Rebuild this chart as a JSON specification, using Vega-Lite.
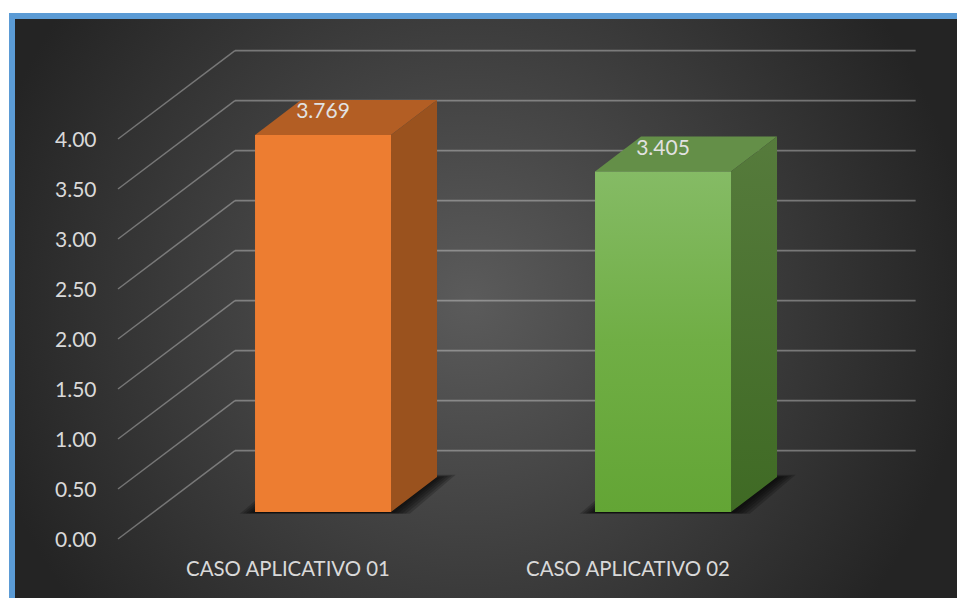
{
  "$schema": "https://vega.github.io/schema/vega-lite/v6.json",
  "width": 945,
  "height": 582,
  "autosize": "none",
  "padding": {"left": 15, "top": 19, "right": 0, "bottom": 0},
  "background": "#ffffff",
  "config": {
    "view": {"fill": "#2a2a2a", "stroke": "#5b9bd5", "strokeWidth": 12},
    "text": {"font": "Lato"},
    "axis": {"labelFont": "Lato", "labelColor": "#d9d9d9", "labelFontSize": 21}
  },
  "datasets": {
    "casos": [
      {"caso": "CASO APLICATIVO 01", "valor": 3.769},
      {"caso": "CASO APLICATIVO 02", "valor": 3.405}
    ],
    "marcas": [
      {"tick": 0}, {"tick": 0.5}, {"tick": 1}, {"tick": 1.5}, {"tick": 2},
      {"tick": 2.5}, {"tick": 3}, {"tick": 3.5}, {"tick": 4}
    ],
    "fondo": [{"x0": -0.435, "x1": 2.506, "y0": -2.61, "y1": 7.39}]
  },
  "layer": [
    {
      "description": "Panel background: a square radial gradient clipped to the view so it stays circular",
      "data": {"name": "fondo"},
      "mark": {
        "type": "rect",
        "clip": true,
        "fill": {
          "gradient": "radial", "x1": 0.5, "y1": 0.5, "r1": 0, "x2": 0.5, "y2": 0.5, "r2": 0.5,
          "stops": [{"offset": 0, "color": "#5b5b5b"}, {"offset": 1, "color": "#242424"}]
        }
      },
      "encoding": {
        "x": {"field": "x0", "type": "quantitative", "axis": null,
              "scale": {"domain": [0, 2], "range": [103, 783], "nice": false, "zero": false}},
        "x2": {"field": "x1"},
        "y": {"field": "y0", "type": "quantitative", "axis": null,
              "scale": {"domain": [0, 4], "range": [520, 120], "nice": false, "zero": false}},
        "y2": {"field": "y1"}
      }
    },
    {
      "description": "Back wall gridlines",
      "data": {"name": "marcas"},
      "transform": [{"calculate": "datum.tick + 0.883", "as": "fondoY"}],
      "mark": {"type": "rule", "color": "#ffffff", "opacity": 0.33, "strokeWidth": 1.7},
      "encoding": {
        "x": {"datum": 0.344, "type": "quantitative", "axis": null,
              "scale": {"domain": [0, 2], "range": [103, 783], "nice": false, "zero": false}},
        "x2": {"datum": 2.346},
        "y": {"field": "fondoY", "type": "quantitative", "axis": null,
              "scale": {"domain": [0, 4], "range": [520, 120], "nice": false, "zero": false}}
      }
    },
    {
      "description": "Side wall gridlines, with the value axis on the front edge",
      "data": {"name": "marcas"},
      "transform": [{"calculate": "datum.tick + 0.883", "as": "fondoY"}],
      "mark": {"type": "rule", "color": "#ffffff", "opacity": 0.33, "strokeWidth": 1.5},
      "encoding": {
        "x": {"datum": 0, "type": "quantitative", "axis": null,
              "scale": {"domain": [0, 2], "range": [103, 783], "nice": false, "zero": false}},
        "x2": {"datum": 0.344},
        "y": {"field": "tick", "type": "quantitative", "title": null,
              "scale": {"domain": [0, 4], "range": [520, 120], "nice": false, "zero": false},
              "axis": {"values": [0, 0.5, 1, 1.5, 2, 2.5, 3, 3.5, 4], "format": ".2f", "domain": false, "zindex": 1,
                       "ticks": false, "grid": false, "offset": -81, "labelPadding": 0, "labelOffset": 1.5, "title": null}},
        "y2": {"field": "fondoY"}
      }
    },
    {
      "data": {"name": "casos"},
      "transform": [
        {"calculate": "indexof(['CASO APLICATIVO 01', 'CASO APLICATIVO 02'], datum.caso) + 0.603", "as": "centro"},
        {"calculate": "datum.centro - 0.2", "as": "izq"},
        {"calculate": "datum.centro + 0.2", "as": "der"},
        {"calculate": "datum.valor + 0.27", "as": "techo"},
        {"calculate": "0.27", "as": "piso"},
        {"calculate": "[0, 1]", "as": "d"},
        {"flatten": ["d"]}
      ],
      "layer": [
        {
          "description": "Soft cast shadow on the floor, built from nested translucent shapes",
          "transform": [
            {"calculate": "[0, 1, 2, 3, 4, 5]", "as": "s"},
            {"flatten": ["s"]},
            {"calculate": "datum.izq - datum.s * 0.009 + datum.d * 0.1353", "as": "sx0"},
            {"calculate": "datum.der + datum.s * 0.011 + datum.d * 0.1353", "as": "sx1"},
            {"calculate": "datum.piso - 0.008 - datum.s * 0.002 + datum.d * (0.35 + datum.s * 0.008)", "as": "sy"}
          ],
          "mark": {"type": "area", "orient": "horizontal", "fill": "#000000", "opacity": 0.2},
          "encoding": {
            "x": {"field": "sx0", "type": "quantitative", "axis": null,
                  "scale": {"domain": [0, 2], "range": [103, 783], "nice": false, "zero": false}},
            "x2": {"field": "sx1"},
            "y": {"field": "sy", "type": "quantitative", "axis": null, "stack": null,
                  "scale": {"domain": [0, 4], "range": [520, 120], "nice": false, "zero": false}},
            "detail": [{"field": "caso"}, {"field": "s"}]
          }
        },
        {
          "description": "Top face of each bar",
          "transform": [
            {"calculate": "datum.izq + datum.d * 0.1353", "as": "tx0"},
            {"calculate": "datum.der + datum.d * 0.1353", "as": "tx1"},
            {"calculate": "datum.techo + datum.d * 0.35", "as": "ty"}
          ],
          "mark": {"type": "area", "orient": "horizontal"},
          "encoding": {
            "x": {"field": "tx0", "type": "quantitative", "axis": null,
                  "scale": {"domain": [0, 2], "range": [103, 783], "nice": false, "zero": false}},
            "x2": {"field": "tx1"},
            "y": {"field": "ty", "type": "quantitative", "axis": null, "stack": null,
                  "scale": {"domain": [0, 4], "range": [520, 120], "nice": false, "zero": false}},
            "detail": {"field": "caso"},
            "fill": {"field": "caso", "type": "nominal", "legend": null,
                     "scale": {"domain": ["CASO APLICATIVO 01", "CASO APLICATIVO 02"], "range": ["#b35e24", "#648f48"]}}
          }
        },
        {
          "description": "Right side face of the orange bar",
          "transform": [
            {"filter": "datum.caso === 'CASO APLICATIVO 01'"},
            {"calculate": "datum.der + datum.d * 0.1353", "as": "lx"},
            {"calculate": "datum.techo + datum.d * 0.35", "as": "ly0"},
            {"calculate": "datum.piso + datum.d * 0.35", "as": "ly1"}
          ],
          "mark": {"type": "area", "orient": "vertical", "fill": "#9a521e"},
          "encoding": {
            "x": {"field": "lx", "type": "quantitative", "axis": null,
                  "scale": {"domain": [0, 2], "range": [103, 783], "nice": false, "zero": false}},
            "y": {"field": "ly0", "type": "quantitative", "axis": null, "stack": null,
                  "scale": {"domain": [0, 4], "range": [520, 120], "nice": false, "zero": false}},
            "y2": {"field": "ly1"}
          }
        },
        {
          "description": "Right side face of the green bar",
          "transform": [
            {"filter": "datum.caso === 'CASO APLICATIVO 02'"},
            {"calculate": "datum.der + datum.d * 0.1353", "as": "lx"},
            {"calculate": "datum.techo + datum.d * 0.35", "as": "ly0"},
            {"calculate": "datum.piso + datum.d * 0.35", "as": "ly1"}
          ],
          "mark": {
            "type": "area", "orient": "vertical",
            "fill": {"gradient": "linear", "x1": 0, "y1": 0, "x2": 0, "y2": 1,
                     "stops": [{"offset": 0, "color": "#567b3c"}, {"offset": 1, "color": "#3f6a24"}]}
          },
          "encoding": {
            "x": {"field": "lx", "type": "quantitative", "axis": null,
                  "scale": {"domain": [0, 2], "range": [103, 783], "nice": false, "zero": false}},
            "y": {"field": "ly0", "type": "quantitative", "axis": null, "stack": null,
                  "scale": {"domain": [0, 4], "range": [520, 120], "nice": false, "zero": false}},
            "y2": {"field": "ly1"}
          }
        },
        {
          "description": "Front face of the orange bar",
          "transform": [{"filter": "datum.caso === 'CASO APLICATIVO 01' && datum.d === 0"}],
          "mark": {"type": "rect", "fill": "#ed7d31"},
          "encoding": {
            "x": {"field": "izq", "type": "quantitative", "axis": null,
                  "scale": {"domain": [0, 2], "range": [103, 783], "nice": false, "zero": false}},
            "x2": {"field": "der"},
            "y": {"field": "techo", "type": "quantitative", "axis": null,
                  "scale": {"domain": [0, 4], "range": [520, 120], "nice": false, "zero": false}},
            "y2": {"field": "piso"}
          }
        },
        {
          "description": "Front face of the green bar",
          "transform": [{"filter": "datum.caso === 'CASO APLICATIVO 02' && datum.d === 0"}],
          "mark": {
            "type": "rect",
            "fill": {"gradient": "linear", "x1": 0, "y1": 0, "x2": 0, "y2": 1,
                     "stops": [{"offset": 0, "color": "#85bb65"}, {"offset": 0.5, "color": "#70ae45"}, {"offset": 1, "color": "#63a535"}]}
          },
          "encoding": {
            "x": {"field": "izq", "type": "quantitative", "axis": null,
                  "scale": {"domain": [0, 2], "range": [103, 783], "nice": false, "zero": false}},
            "x2": {"field": "der"},
            "y": {"field": "techo", "type": "quantitative", "axis": null,
                  "scale": {"domain": [0, 4], "range": [520, 120], "nice": false, "zero": false}},
            "y2": {"field": "piso"}
          }
        }
      ]
    },
    {
      "description": "Value labels and the category axis",
      "data": {"name": "casos"},
      "mark": {"type": "text", "fontSize": 21, "color": "#e2e2e2", "xOffset": 35, "yOffset": -50, "align": "center", "baseline": "middle"},
      "encoding": {
        "x": {"field": "caso", "type": "nominal", "title": null, "sort": null,
              "scale": {"type": "band", "domain": ["CASO APLICATIVO 01", "CASO APLICATIVO 02"], "range": [103, 783], "paddingInner": 0, "paddingOuter": 0},
              "axis": {"labelAngle": 0, "domain": false, "ticks": false, "grid": false, "offset": -32, "labelPadding": 0, "zindex": 1,
                       "labelBaseline": "middle", "labelFontSize": 20.4, "labelLimit": 320, "title": null}},
        "y": {"field": "valor", "type": "quantitative", "axis": null,
              "scale": {"domain": [0, 4], "range": [520, 120], "nice": false, "zero": false}},
        "text": {"field": "valor", "type": "quantitative", "format": ".3f"}
      }
    }
  ],
  "resolve": {"scale": {"x": "independent", "fill": "independent"}, "axis": {"x": "independent", "y": "independent"}}
}
